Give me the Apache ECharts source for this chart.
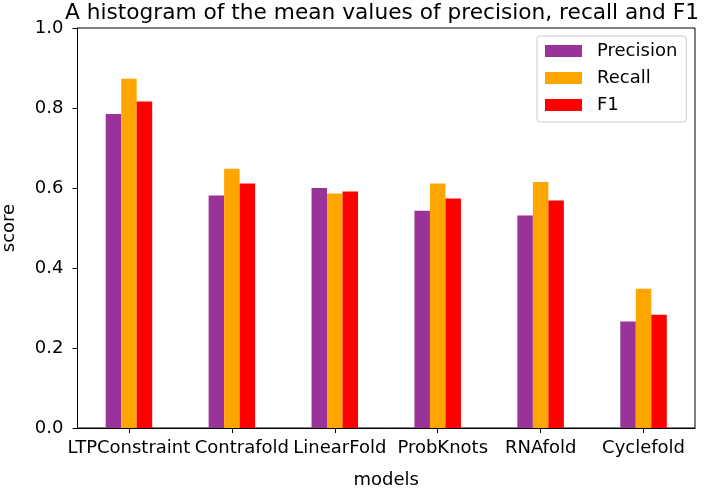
<!DOCTYPE html>
<html>
<head>
<meta charset="utf-8">
<script src="https://cdn.jsdelivr.net/npm/echarts@6/dist/echarts.min.js"></script>
<style>html,body{margin:0;padding:0;background:#fff}#c{width:708px;height:489px}</style>
</head>
<body>
<div id="c"></div>
<script>
const models = ['LTPConstraint', 'Contrafold', 'LinearFold', 'ProbKnots', 'RNAfold', 'Cyclefold'];
const precision = [0.785, 0.581, 0.600, 0.543, 0.531, 0.266];
const recall = [0.873, 0.648, 0.586, 0.611, 0.615, 0.348];
const f1 = [0.816, 0.611, 0.591, 0.574, 0.569, 0.283];

const FONT = 'DejaVu Sans';
const chart = echarts.init(document.getElementById('c'), null, {renderer: 'canvas'});

// small horizontal nudges of the tick labels, as in the reference
const labelShift = [0, 10, 5, 5, 0, 0];
const rich = {};
labelShift.forEach((s, i) => {
  rich['l' + i] = {fontFamily: FONT, fontSize: 18, color: '#000', padding: [0, 0, 0, 2 * s]};
});

const seriesDefs = [
  {name: 'Precision', data: precision, color: '#993399'},
  {name: 'Recall', data: recall, color: '#FFA500'},
  {name: 'F1', data: f1, color: '#FF0000'}
];

chart.setOption({
  animation: false,
  backgroundColor: '#fff',
  textStyle: {fontFamily: FONT},
  title: {
    text: 'A histogram of the mean values of precision, recall and F1',
    left: 377, top: -3, textAlign: 'center',
    textStyle: {fontFamily: FONT, fontSize: 21.7, fontWeight: 'normal', color: '#000'}
  },
  legend: {
    orient: 'vertical', left: 537, top: 36,
    padding: [6, 9, 8, 8],
    itemWidth: 37, itemHeight: 12, itemGap: 9,
    backgroundColor: '#fff', borderColor: '#cccccc', borderWidth: 1, borderRadius: 3,
    textStyle: {fontFamily: FONT, fontSize: 18, lineHeight: 18, color: '#000', padding: [0, 0, 0, 10]},
    icon: 'rect',
    data: seriesDefs.map(s => s.name)
  },
  grid: {
    left: 77.5, right: 13, top: 28, bottom: 61,
    outerBoundsMode: 'none', containLabel: false,
    show: true, borderColor: '#000', borderWidth: 1, backgroundColor: 'transparent'
  },
  xAxis: {
    type: 'category', data: models, boundaryGap: true,
    name: 'models', nameLocation: 'middle', nameGap: 43,
    nameTextStyle: {fontFamily: FONT, fontSize: 18, color: '#000'},
    splitLine: {show: false},
    axisLine: {show: true, lineStyle: {color: '#000', width: 1}},
    axisTick: {show: true, alignWithLabel: true, length: 5, lineStyle: {color: '#000'}},
    axisLabel: {
      interval: 0, margin: 11,
      formatter: (v, i) => '{l' + i + '|' + v + '}',
      rich: rich,
      fontFamily: FONT, fontSize: 18, color: '#000'
    }
  },
  yAxis: {
    type: 'value', min: 0, max: 1, interval: 0.2,
    name: 'score', nameLocation: 'middle', nameGap: 59, nameRotate: 90,
    nameTextStyle: {fontFamily: FONT, fontSize: 18, color: '#000'},
    splitLine: {show: false},
    axisLine: {show: true, onZero: false, lineStyle: {color: '#000', width: 1}},
    axisTick: {show: true, length: 5, lineStyle: {color: '#000'}},
    axisLabel: {
      formatter: v => v.toFixed(1),
      fontFamily: FONT, fontSize: 18, color: '#000', margin: 14
    }
  },
  series: seriesDefs.map(s => ({
    name: s.name, type: 'bar', data: s.data,
    barWidth: 15.5, barGap: '0%',
    itemStyle: {color: s.color}
  }))
});
</script>
</body>
</html>
